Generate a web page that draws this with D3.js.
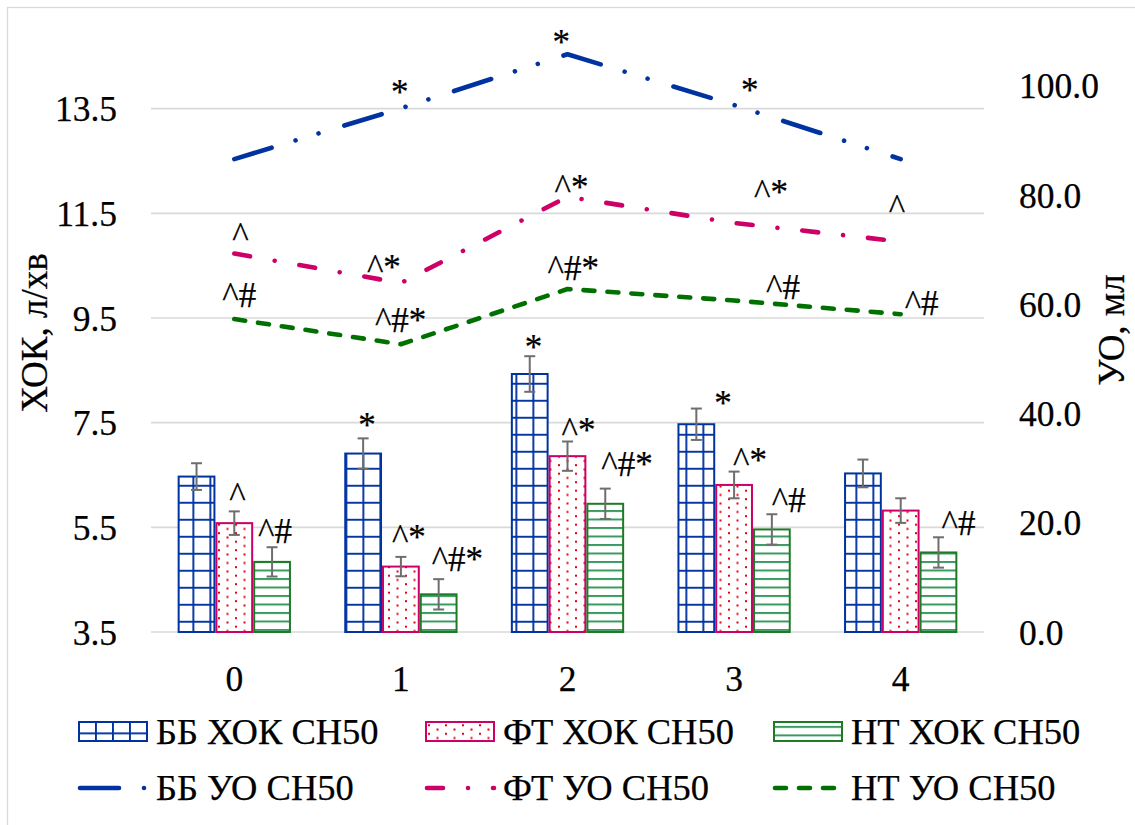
<!DOCTYPE html>
<html>
<head>
<meta charset="utf-8">
<script src="https://cdn.jsdelivr.net/npm/d3@7"></script>
<style>
  body { margin: 0; background: #fff; }
  svg text { font-family: "Liberation Serif", "Times New Roman", serif; fill: #000; }
</style>
</head>
<body>
<svg id="chart" width="1135" height="825" font-family="Liberation Serif, Times New Roman, serif"></svg>
<script>
// ---- data ----
const categories = ["0", "1", "2", "3", "4"];

// ХОК (л/хв), left axis, bars with error bars
const bbHok = [6.47, 6.91, 8.43, 7.47, 6.53];
const ftHok = [5.58, 4.75, 6.86, 6.31, 5.82];
const ntHok = [4.84, 4.22, 5.95, 5.46, 5.02];
const bbHokErr = [0.255, 0.29, 0.34, 0.30, 0.265];
const ftHokErr = [0.225, 0.185, 0.28, 0.255, 0.235];
const ntHokErr = [0.28, 0.29, 0.29, 0.29, 0.29];

// УО (мл), right axis, lines
const bbUo = [86.6, 95.9, 105.8, 96.5, 86.6];
const ftUo = [69.3, 63.9, 79.7, 74.9, 71.5];
const ntUo = [57.3, 52.7, 62.8, 60.7, 58.2];

const leftTicks = [3.5, 5.5, 7.5, 9.5, 11.5, 13.5];
const rightTicks = [0, 20, 40, 60, 80, 100];

// significance marks
const bbHokMarks = ["", "*", "*", "*", ""];
const ftHokMarks = ["^", "^*", "^*", "^*", ""];
const ntHokMarks = ["^#", "^#*", "^#*", "^#", "^#"];
const bbUoMarks = ["", "*", "*", "*", ""];
const ftUoMarks = ["^", "^*", "^*", "^*", "^"];
const ntUoMarks = ["^#", "^#*", "^#*", "^#", "^#"];

const barNames = ["ББ ХОК СН50", "ФТ ХОК СН50", "НТ ХОК СН50"];
const lineNames = ["ББ УО СН50", "ФТ УО СН50", "НТ УО СН50"];
const leftTitle = "ХОК, л/хв";
const rightTitle = "УО, мл";

// ---- layout ----
const W = 1135, H = 825;
const plot = { left: 151, right: 984, top: 4, bottom: 632 };
const FS_TICK = 35.5, FS_LEG = 36.5, FS_TITLE = 37, FS_MARK = 35;
const FONT = "'Liberation Serif', 'Times New Roman', serif";
const BLUE = "#0033a0", PINK = "#cc0066", GREEN = "#007000";

// mark placement relative to the error bar top / line point [dx, dy]
const bbHokNudge = [[0,0],[-5,-1],[-5,3],[18,6],[0,0]];
const ftHokNudge = [[-5,-4],[-9,-8],[-6,0],[-1,0],[0,0]];
const ntHokNudge = [[-14,-4],[-7,-8],[-4,-13],[0,-2],[3,-2]];
const bbUoNudge = [[0,0],[-10,-4],[-15,0],[7,-3],[0,0]];
const ftUoNudge = [[-2,-7],[-34,-4],[-13,2],[20,-19],[-12,-23]];
const ntUoNudge = [[-12,-12],[-26,-12],[-20,-9],[32,-2],[4,1]];

const svg = d3.select("#chart");
svg.append("rect").attr("width", W).attr("height", H).attr("fill", "#fff");
svg.append("rect").attr("x", 7.5).attr("y", 7.5).attr("width", W + 20).attr("height", H + 20)
  .attr("fill", "none").attr("stroke", "#d9d9d9").attr("stroke-width", 1.3);

// ---- fill patterns ----
const defs = svg.append("defs");
function gridPattern(id, ox, oy) {
  const p = defs.append("pattern").attr("id", id).attr("patternUnits", "userSpaceOnUse")
    .attr("x", ox).attr("y", oy).attr("width", 17).attr("height", 17);
  p.append("rect").attr("width", 17).attr("height", 17).attr("fill", "#fff");
  p.append("rect").attr("x", 0).attr("y", 0).attr("width", 1.9).attr("height", 17).attr("fill", BLUE);
  p.append("rect").attr("x", 0).attr("y", 0).attr("width", 17).attr("height", 1.9).attr("fill", BLUE);
}
function dotPattern(id, ox, oy) {
  const p = defs.append("pattern").attr("id", id).attr("patternUnits", "userSpaceOnUse")
    .attr("x", ox).attr("y", oy).attr("width", 17).attr("height", 8.5);
  p.append("rect").attr("width", 17).attr("height", 8.5).attr("fill", "#fff");
  p.append("rect").attr("x", 0).attr("y", 0).attr("width", 2).attr("height", 2).attr("fill", "#e8000b");
  p.append("rect").attr("x", 8.5).attr("y", 4.25).attr("width", 2).attr("height", 2).attr("fill", "#e8000b");
}
function stripePattern(id, ox, oy) {
  const p = defs.append("pattern").attr("id", id).attr("patternUnits", "userSpaceOnUse")
    .attr("x", ox).attr("y", oy).attr("width", 17).attr("height", 8.5);
  p.append("rect").attr("width", 17).attr("height", 8.5).attr("fill", "#fff");
  p.append("rect").attr("x", 0).attr("y", 0).attr("width", 17).attr("height", 2).attr("fill", "#3a9a62");
}
gridPattern("pBB", 5.4, 8.8);
dotPattern("pFT", 14, 5.2);
stripePattern("pNT", 1.5, 0);
gridPattern("pBBleg", 10, 1.4);
dotPattern("pFTleg", 3, 1.8);
stripePattern("pNTleg", 0, 3.4);

// ---- scales ----
const x = d3.scaleBand().domain(categories).range([plot.left, plot.right]).padding(0);
const bw = x.bandwidth();
const sub = d3.scaleBand().domain([0, 1, 2]).range([bw * 0.16, bw * 0.84]).padding(0);
const yL = d3.scaleLinear().domain([3.5, 15.5]).range([plot.bottom, plot.top]);
const yR = d3.scaleLinear().domain([0, 115]).range([plot.bottom, plot.top]);
const cx = c => x(c) + bw / 2;

function label(sel, size) {
  return sel.attr("font-family", FONT).attr("font-size", size).attr("fill", "#000")
    .attr("stroke", "#000").attr("stroke-width", 0.25);
}

// ---- gridlines ----
svg.append("g").selectAll("line").data(leftTicks).join("line")
  .attr("x1", plot.left).attr("x2", plot.right)
  .attr("y1", d => yL(d)).attr("y2", d => yL(d))
  .attr("stroke", "#d9d9d9").attr("stroke-width", 1.6);

// ---- axes (labels only) ----
const axL = svg.append("g").attr("transform", `translate(${plot.left - 34},0)`)
  .call(d3.axisLeft(yL).tickValues(leftTicks).tickFormat(d3.format(".1f")).tickSize(0).tickPadding(0));
const axR = svg.append("g").attr("transform", `translate(${plot.right + 35},0)`)
  .call(d3.axisRight(yR).tickValues(rightTicks).tickFormat(d3.format(".1f")).tickSize(0).tickPadding(0));
const axB = svg.append("g").attr("transform", `translate(0,${plot.bottom})`)
  .call(d3.axisBottom(x).tickSize(0).tickPadding(47));
[axL, axR, axB].forEach(a => {
  a.attr("font-family", FONT);
  a.select(".domain").remove();
  label(a.selectAll("text"), FS_TICK).attr("dy", "0.34em");
});

label(svg.append("text"), FS_TITLE).attr("transform", `translate(47,333) rotate(-90)`)
  .attr("text-anchor", "middle").text(leftTitle);
label(svg.append("text"), FS_TITLE).attr("transform", `translate(1124,330) rotate(-90)`)
  .attr("text-anchor", "middle").text(rightTitle);

// ---- bars ----
const barSeries = [
  { vals: bbHok, err: bbHokErr, fill: "url(#pBB)", stroke: BLUE, marks: bbHokMarks, nudge: bbHokNudge },
  { vals: ftHok, err: ftHokErr, fill: "url(#pFT)", stroke: PINK, marks: ftHokMarks, nudge: ftHokNudge },
  { vals: ntHok, err: ntHokErr, fill: "url(#pNT)", stroke: "#1f7a26", marks: ntHokMarks, nudge: ntHokNudge }
];
const gBars = svg.append("g");
barSeries.forEach((s, si) => {
  const rows = categories.map((c, i) => ({ c, v: s.vals[i], e: s.err[i], m: s.marks[i], n: s.nudge[i] }));
  const bx = d => x(d.c) + sub(si);
  const bcx = d => bx(d) + sub.bandwidth() / 2;
  gBars.append("g").selectAll("rect").data(rows).join("rect")
    .attr("x", d => bx(d) + 1).attr("width", sub.bandwidth() - 2)
    .attr("y", d => yL(d.v)).attr("height", d => yL(3.5) - yL(d.v))
    .attr("fill", s.fill).attr("stroke", s.stroke).attr("stroke-width", 2);
  // error bars
  const ge = gBars.append("g").attr("stroke", "#6e6e6e").attr("stroke-width", 2);
  ge.selectAll("line.v").data(rows).join("line").attr("class", "v")
    .attr("x1", bcx).attr("x2", bcx)
    .attr("y1", d => yL(d.v + d.e)).attr("y2", d => yL(d.v - d.e));
  ge.selectAll("line.t").data(rows).join("line").attr("class", "t")
    .attr("x1", d => bcx(d) - 5.5).attr("x2", d => bcx(d) + 5.5)
    .attr("y1", d => yL(d.v + d.e)).attr("y2", d => yL(d.v + d.e));
  ge.selectAll("line.b").data(rows).join("line").attr("class", "b")
    .attr("x1", d => bcx(d) - 5.5).attr("x2", d => bcx(d) + 5.5)
    .attr("y1", d => yL(d.v - d.e)).attr("y2", d => yL(d.v - d.e));
  // marks
  label(gBars.append("g").selectAll("text").data(rows.filter(d => d.m)).join("text"), FS_MARK)
    .attr("x", d => bcx(d) + d.n[0]).attr("y", d => yL(d.v + d.e) + d.n[1])
    .text(d => d.m);
});

// ---- lines ----
const lineSeries = [
  { vals: bbUo, color: BLUE, dash: "39 25 0.01 24 0.01 27", marks: bbUoMarks, nudge: bbUoNudge },
  { vals: ftUo, color: PINK, dash: "16 25 0.01 25", marks: ftUoMarks, nudge: ftUoNudge },
  { vals: ntUo, color: GREEN, dash: "11 13", marks: ntUoMarks, nudge: ntUoNudge }
];
const line = d3.line().x(d => cx(d.c)).y(d => yR(d.v));
const gLines = svg.append("g");
lineSeries.forEach(s => {
  const rows = categories.map((c, i) => ({ c, v: s.vals[i], m: s.marks[i], n: s.nudge[i] }));
  gLines.append("path").datum(rows).attr("d", line)
    .attr("fill", "none").attr("stroke", s.color).attr("stroke-width", 4.6)
    .attr("stroke-dasharray", s.dash).attr("stroke-linecap", "round").attr("stroke-linejoin", "round");
  label(gLines.append("g").selectAll("text").data(rows.filter(d => d.m)).join("text"), FS_MARK)
    .attr("x", d => cx(d.c) + d.n[0]).attr("y", d => yR(d.v) + d.n[1])
    .text(d => d.m);
});

// ---- legend ----
const legCols = [79, 426, 774];
const legRow1 = 722, legRow2 = 788;
const gLeg = svg.append("g");
const legFills = ["url(#pBBleg)", "url(#pFTleg)", "url(#pNTleg)"];
barNames.forEach((name, i) => {
  gLeg.append("rect").attr("x", legCols[i]).attr("y", legRow1).attr("width", 68).attr("height", 19)
    .attr("fill", legFills[i]).attr("stroke", barSeries[i].stroke).attr("stroke-width", 2);
  label(gLeg.append("text"), FS_LEG).attr("x", legCols[i] + 77).attr("y", legRow1 + 22).text(name);
});
lineNames.forEach((name, i) => {
  gLeg.append("line").attr("x1", legCols[i] + 1).attr("x2", legCols[i] + 68)
    .attr("y1", legRow2).attr("y2", legRow2)
    .attr("stroke", lineSeries[i].color).attr("stroke-width", 4.6)
    .attr("stroke-dasharray", lineSeries[i].dash).attr("stroke-linecap", "round");
  label(gLeg.append("text"), FS_LEG).attr("x", legCols[i] + 77).attr("y", legRow2 + 12).text(name);
});
</script>
</body>
</html>
